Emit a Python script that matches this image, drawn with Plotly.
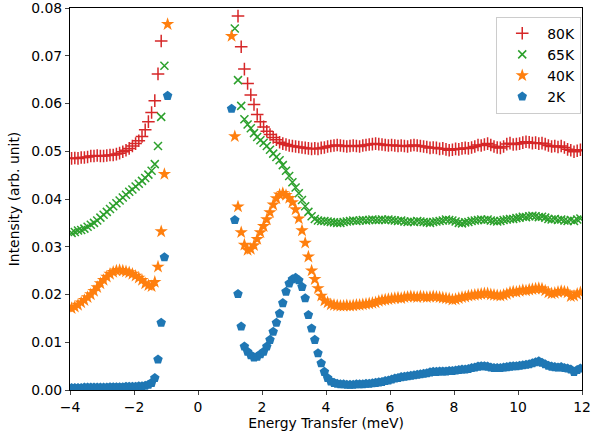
import plotly.graph_objects as go

# ---------------- data ----------------
labels = ["80K", "65K", "40K", "2K"]
colors = ["#d62728", "#2ca02c", "#ff7f0e", "#1f77b4"]

# energy grid (meV): left of elastic line -3.95 .. -0.95, right 1.05 .. 11.95, step 0.1
left_start, right_start, step = -3.95, 1.05, 0.1

red_left = [.0485, .0486, .0485, .0487, .0487, .0488, .0490, .0490, .0491, .0490,
            .0490, .0491, .0492, .0492, .0494, .0496, .0499, .0502, .0506, .0511,
            .0516, .0522, .0531, .0545, .0562, .0581, .0606, .0662, .0731, None,
            None]
green_left = [.0329, .0331, .0334, .0335, .0338, .0342, .0346, .0350, .0355, .0361,
              .0367, .0373, .0379, .0385, .0391, .0397, .0403, .0409, .0415, .0420,
              .0426, .0432, .0438, .0444, .0451, .0459, .0473, .0511, .0572, .0679,
              None]
orange_left = [.0171, .0174, .0178, .0183, .0188, .0194, .0200, .0207, .0215, .0223,
               .0230, .0237, .0243, .0247, .0250, .0251, .0250, .0248, .0246, .0243,
               .0239, .0235, .0230, .0223, .0219, .0217, .0226, .0258, .0332, .0452,
               .0766]
blue_left = [.0004, .0004, .0004, .0004, .0005, .0005, .0005, .0005, .0005, .0005,
             .0005, .0005, .0006, .0006, .0006, .0006, .0006, .0007, .0007, .0007,
             .0007, .0008, .0008, .0009, .0011, .0015, .0025, .0064, .0141, .0278,
             .0616]

red_right = [None, None, .0783, .0719, .0672, .0642, .0618, .0598, .0577, .0562,
             .0551, .0542, .0535, .0529, .0524, .0519, .0516, .0514, .0512, .0511,
             .0510, .0509, .0508, .0507, .0506, .0505, .0506, .0505, .0507, .0508,
             .0510, .0511, .0512, .0513, .0512, .0511, .0510, .0511, .0512, .0511,
             .0510, .0512, .0513, .0514, .0515, .0516, .0515, .0514, .0513, .0512,
             .0513, .0512, .0511, .0512, .0511, .0510, .0512, .0513, .0512, .0511,
             .0510, .0509, .0507, .0508, .0507, .0505, .0506, .0504, .0502, .0503,
             .0505, .0504, .0506, .0507, .0506, .0508, .0510, .0513, .0512, .0514,
             .0516, .0513, .0510, .0508, .0507, .0510, .0515, .0517, .0514, .0515,
             .0516, .0518, .0520, .0519, .0517, .0518, .0516, .0517, .0515, .0512,
             .0510, .0511, .0509, .0511, .0508, .0504, .0502, .0499, .0501, .0503]
green_right = [None, .0757, .0649, .0595, .0567, .0556, .0548, .0538, .0530, .0523,
               .0518, .0511, .0503, .0495, .0488, .0481, .0471, .0459, .0448, .0435,
               .0424, .0412, .0398, .0385, .0373, .0364, .0358, .0355, .0354, .0354,
               .0353, .0352, .0351, .0350, .0350, .0352, .0353, .0354, .0355, .0354,
               .0355, .0356, .0355, .0356, .0357, .0356, .0356, .0357, .0356, .0357,
               .0356, .0355, .0354, .0355, .0353, .0352, .0353, .0352, .0354, .0353,
               .0352, .0351, .0350, .0352, .0353, .0354, .0355, .0357, .0356, .0355,
               .0353, .0350, .0349, .0351, .0352, .0354, .0355, .0356, .0357, .0356,
               .0357, .0355, .0354, .0353, .0354, .0356, .0357, .0358, .0358, .0360,
               .0361, .0363, .0362, .0364, .0365, .0364, .0362, .0363, .0361, .0358,
               .0357, .0358, .0356, .0357, .0355, .0354, .0356, .0354, .0357, .0359]
orange_right = [.0741, .0531, .0384, .0330, .0304, .0293, .0295, .0303, .0316, .0330,
                .0343, .0357, .0372, .0388, .0401, .0409, .0412, .0408, .0402, .0393,
                .0378, .0359, .0334, .0308, .0279, .0250, .0232, .0213, .0197, .0187,
                .0183, .0179, .0178, .0177, .0176, .0176, .0177, .0176, .0177, .0178,
                .0178, .0179, .0180, .0181, .0182, .0183, .0186, .0188, .0189, .0190,
                .0191, .0192, .0193, .0192, .0194, .0195, .0196, .0195, .0194, .0196,
                .0195, .0194, .0195, .0196, .0195, .0194, .0193, .0192, .0191, .0189,
                .0190, .0192, .0194, .0195, .0197, .0198, .0199, .0200, .0201, .0202,
                .0202, .0200, .0199, .0198, .0197, .0199, .0201, .0204, .0206, .0205,
                .0207, .0209, .0208, .0210, .0211, .0212, .0213, .0212, .0208, .0204,
                .0202, .0203, .0205, .0207, .0206, .0204, .0196, .0197, .0201, .0204]
blue_right = [.0589, .0356, .0201, .0133, .0091, .0080, .0073, .0068, .0070, .0075,
              .0080, .0091, .0105, .0122, .0141, .0160, .0182, .0206, .0223, .0232,
              .0235, .0230, .0216, .0192, .0157, .0129, .0105, .0077, .0056, .0038,
              .0025, .0018, .0015, .0013, .0012, .0012, .0011, .0011, .0011, .0012,
              .0012, .0012, .0013, .0013, .0014, .0015, .0016, .0017, .0019, .0020,
              .0022, .0024, .0025, .0027, .0028, .0029, .0030, .0031, .0032, .0033,
              .0034, .0035, .0037, .0038, .0038, .0039, .0039, .0039, .0040, .0040,
              .0041, .0042, .0043, .0043, .0044, .0046, .0047, .0049, .0050, .0050,
              .0049, .0047, .0046, .0046, .0046, .0047, .0048, .0049, .0050, .0050,
              .0051, .0052, .0053, .0054, .0056, .0058, .0060, .0057, .0054, .0051,
              .0049, .0048, .0047, .0048, .0046, .0045, .0043, .0038, .0042, .0045]

x_ticks = [-4, -2, 0, 2, 4, 6, 8, 10, 12]
y_ticks = [0.00, 0.01, 0.02, 0.03, 0.04, 0.05, 0.06, 0.07, 0.08]

series = [
    (red_left, red_right),
    (green_left, green_right),
    (orange_left, orange_right),
    (blue_left, blue_right),
]
for l, r in series:
    assert len(l) == 31, len(l)
    assert len(r) == 110, len(r)

markers = [
    dict(symbol="cross-thin-open", size=9, line=dict(width=1.5)),
    dict(symbol="x-thin-open", size=8, line=dict(width=1.5)),
    dict(symbol="star", size=10, line=dict(width=0)),
    dict(symbol="pentagon", size=10, line=dict(width=0)),
]

fig = go.Figure()
for (yl, yr), lab, col, mk in zip(series, labels, colors, markers):
    xl = [round(left_start + step * i, 2) for i in range(len(yl))]
    xr = [round(right_start + step * i, 2) for i in range(len(yr))]
    m = dict(mk)
    m["color"] = col
    if "line" in m:
        m["line"] = dict(m["line"], color=col)
    fig.add_trace(go.Scatter(
        x=xl + [None] + xr,
        y=yl + [None] + yr,
        mode="markers",
        name=lab,
        marker=m,
        connectgaps=False,
        cliponaxis=True,
    ))

FS = 13.9
font_family = "DejaVu Sans"
fig.update_layout(
    width=592, height=441,
    margin=dict(l=70, r=10, t=8, b=51, autoexpand=False),
    paper_bgcolor="white", plot_bgcolor="white",
    font=dict(family=font_family, size=FS, color="black"),
    showlegend=True,
    legend=dict(
        x=0.9985, y=0.977, xanchor="right", yanchor="top",
        bordercolor="#cccccc", borderwidth=1, bgcolor="rgba(255,255,255,0.8)",
        font=dict(size=FS), traceorder="normal", itemwidth=40,
        tracegroupgap=0,
    ),
)
fig.update_xaxes(
    range=[-4, 12], tickvals=x_ticks, ticks="outside", ticklen=4, tickwidth=1,
    showline=True, linecolor="black", linewidth=1, mirror=True, showgrid=False,
    zeroline=False, automargin=False, ticklabeloverflow="allow",
    title=dict(text="Energy Transfer (meV)", standoff=4, font=dict(size=FS)),
    tickfont=dict(size=FS),
)
fig.update_yaxes(
    range=[0, 0.08], tickvals=y_ticks, tickformat=".2f", ticks="outside", ticklen=4,
    tickwidth=1, showline=True, linecolor="black", linewidth=1, mirror=True,
    showgrid=False, zeroline=False, automargin=False, ticklabeloverflow="allow",
    title=dict(text="Intensity (arb. unit)", standoff=8, font=dict(size=FS)),
    tickfont=dict(size=FS),
)

fig.write_html("out.html", config={"displayModeBar": False},
               post_script="document.body.style.margin='0px';")
